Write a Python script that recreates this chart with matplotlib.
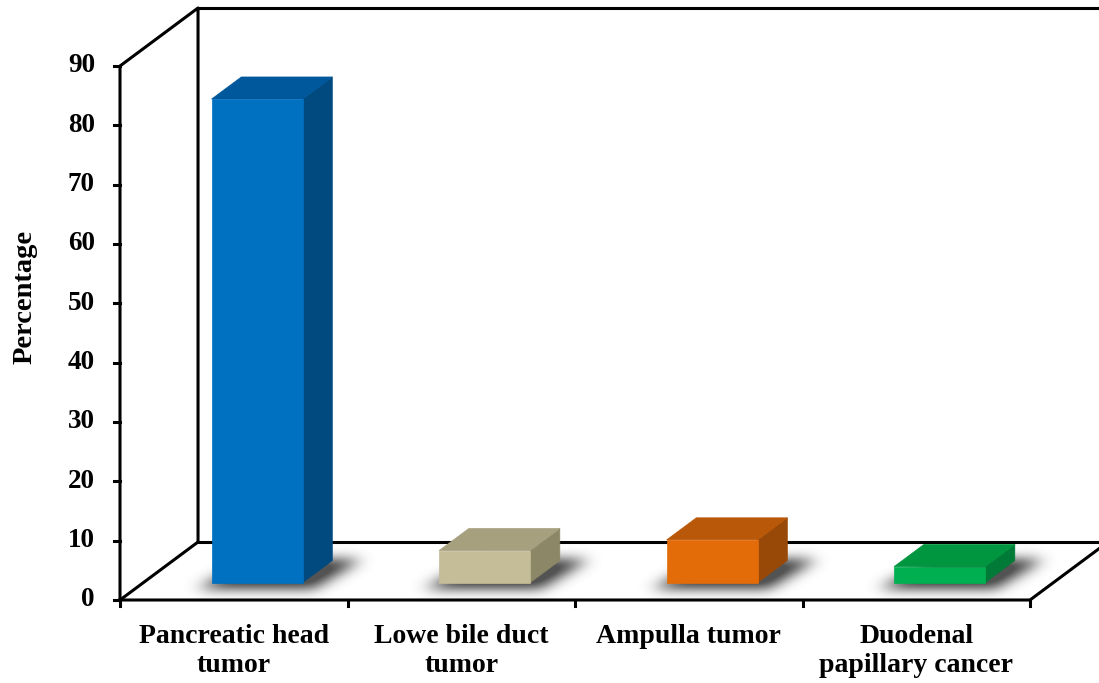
import numpy as np
import matplotlib
matplotlib.use('Agg')
from matplotlib import pyplot as plt
from matplotlib.patches import Polygon
from matplotlib.path import Path

categories = ['Pancreatic head\ntumor', 'Lowe bile duct\ntumor',
              'Ampulla tumor', 'Duodenal\npapillary cancer']
percentages = [81.5, 5.4, 7.2, 2.7]
y_ticks = [0, 10, 20, 30, 40, 50, 60, 70, 80, 90]

# front / top / side shades for each bar
face_colors = [('#0070C0', '#00589C', '#004A80'),
               ('#C4BD97', '#A6A07E', '#8C8766'),
               ('#E36C09', '#B95808', '#984807'),
               ('#00B050', '#00963F', '#007A37')]

# oblique depth offset for the full floor depth (data units)
DEPTH_X = 0.343
DEPTH_Y = 9.78
BAR_HALF = 0.2
BAR_D0, BAR_D1 = 0.3, 0.68

FONT = ['Liberation Serif', 'DejaVu Serif']


def proj(x, y, d):
    return (x + d * DEPTH_X, y + d * DEPTH_Y)


fig = plt.figure(figsize=(10.99, 6.83), dpi=100)
ax = fig.add_axes([120 / 1099, 83 / 683, 910 / 1099, 534 / 683])
ax.axis('off')

n = len(categories)
ymax = y_ticks[-1]
lw = 2.2


def line(pts):
    xs, ys = zip(*pts)
    ax.plot(xs, ys, color='black', lw=lw, clip_on=False,
            solid_capstyle='projecting', zorder=2)


# walls and floor
line([proj(0, 0, 0), proj(0, ymax, 0), proj(0, ymax, 1), proj(0, 0, 1)])
line([proj(0, ymax, 1), proj(n, ymax, 1)])
line([proj(0, 0, 1), proj(n, 0, 1), proj(n, ymax, 1)])
line([proj(0, 0, 0), proj(0, 0, 1)])
line([proj(0, 0, 0), proj(n, 0, 0), proj(n, 0, 1)])

# tick marks and labels
for t in y_ticks:
    line([(0, t), (-0.026, t)])
    ax.text(-0.11, t, str(t), ha='right', va='center', fontsize=19.5,
            fontweight='bold', family=FONT, clip_on=False)
for i in range(n + 1):
    line([(i, 0), (i, -1.0)])

for i, lab in enumerate(categories):
    ax.text(i + 0.5, -4.0, lab, ha='center', va='top', fontsize=20,
            fontweight='bold', family=FONT, linespacing=1.2)

ax.text(-0.418, 51, 'Percentage', rotation=90, ha='center', va='center',
        fontsize=20.5, fontweight='bold', family=FONT)


def gauss_blur(img, sx, sy):
    def kern(s):
        r = int(3 * s)
        k = np.exp(-0.5 * (np.arange(-r, r + 1) / s) ** 2)
        return k / k.sum()
    kx, ky = kern(sx), kern(sy)
    img = np.apply_along_axis(lambda row: np.convolve(row, kx, mode='same'), 1, img)
    img = np.apply_along_axis(lambda col: np.convolve(col, ky, mode='same'), 0, img)
    return img


# soft floor shadow under each bar
def shadow(xc):
    x0, x1 = xc - BAR_HALF, xc + BAR_HALF
    poly = [proj(x0 - 0.03, 0, 0.2), proj(x1 + 0.08, 0, 0.2),
            proj(x1 + 0.12, 0, 0.7), proj(x0 + 0.04, 0, 0.7)]
    xs = np.linspace(xc - 0.55, xc + 0.9, 330)
    ys = np.linspace(-6, 16, 130)
    X, Y = np.meshgrid(xs, ys)
    mask = Path(poly).contains_points(np.c_[X.ravel(), Y.ravel()])
    mask = mask.reshape(X.shape).astype(float)
    mask = gauss_blur(mask, 8, 6)
    rgba = np.zeros(mask.shape + (4,))
    rgba[..., :3] = 0.25
    rgba[..., 3] = np.clip(mask * 1.1, 0, 0.9)
    ax.imshow(rgba, extent=(xs[0], xs[-1], ys[0], ys[-1]), origin='lower',
              aspect='auto', interpolation='bilinear', zorder=3,
              clip_on=False)


for i, (v, (c_front, c_top, c_side)) in enumerate(zip(percentages, face_colors)):
    xc = i + 0.5
    shadow(xc)
    x0, x1 = xc - BAR_HALF, xc + BAR_HALF
    front = [proj(x0, 0, BAR_D0), proj(x1, 0, BAR_D0),
             proj(x1, v, BAR_D0), proj(x0, v, BAR_D0)]
    top = [proj(x0, v, BAR_D0), proj(x1, v, BAR_D0),
           proj(x1, v, BAR_D1), proj(x0, v, BAR_D1)]
    side = [proj(x1, 0, BAR_D0), proj(x1, 0, BAR_D1),
            proj(x1, v, BAR_D1), proj(x1, v, BAR_D0)]
    for pts, col in ((side, c_side), (top, c_top), (front, c_front)):
        ax.add_patch(Polygon(pts, closed=True, facecolor=col,
                             edgecolor=col, lw=0.5, joinstyle='round',
                             zorder=4, clip_on=False))

ax.set_xlim(0, n)
ax.set_ylim(0, ymax)

fig.savefig('out.png', dpi=100)
